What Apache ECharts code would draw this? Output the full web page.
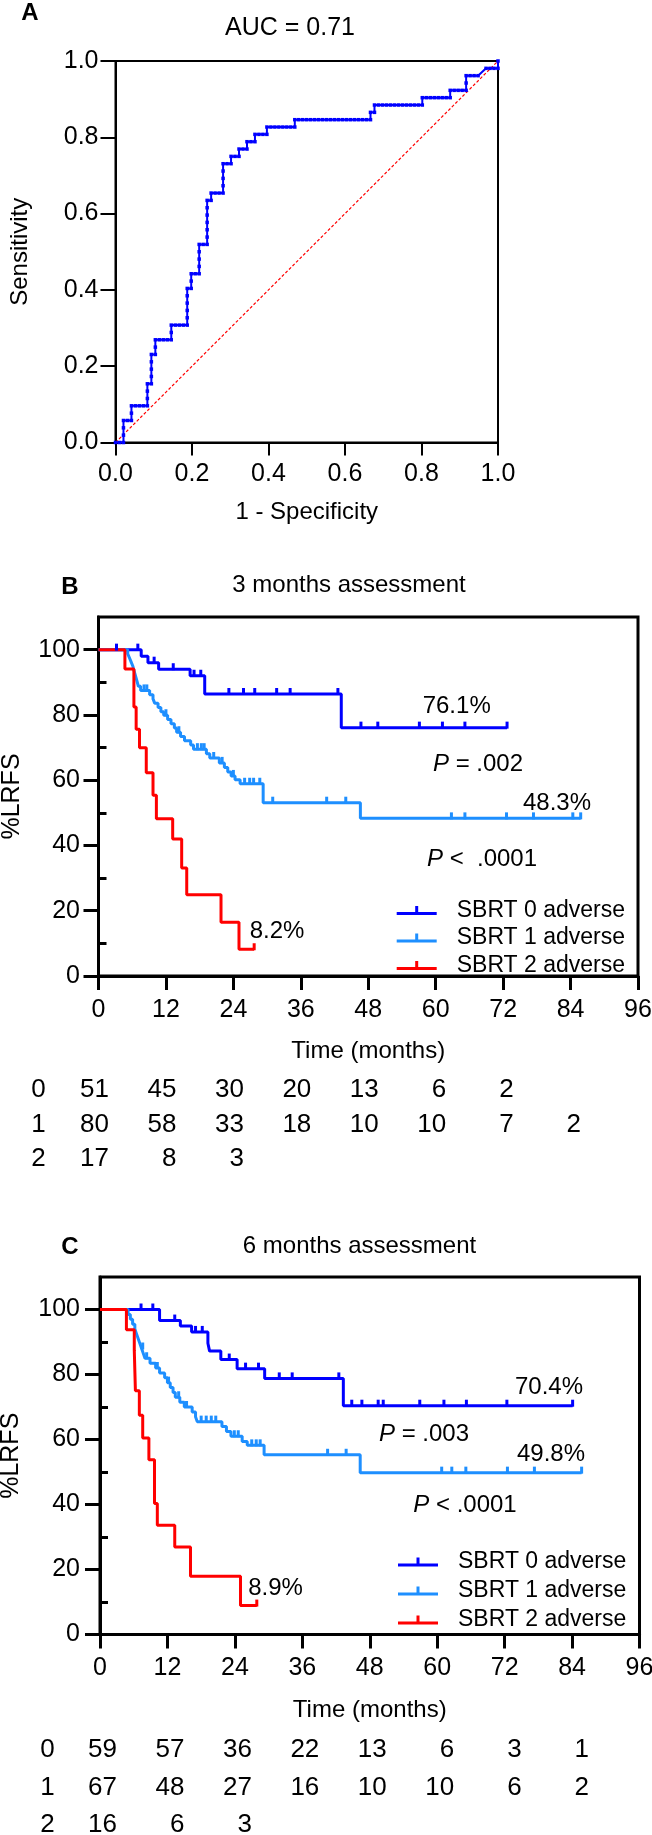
<!DOCTYPE html>
<html><head><meta charset="utf-8">
<script src="https://cdn.jsdelivr.net/npm/echarts@6/dist/echarts.min.js"></script>
<style>html,body{margin:0;padding:0;background:#fff}#c{width:652px;height:1835px}</style>
</head><body><div id="c"></div>
<script>
// ---------------- DATA ----------------
// Panel A: ROC points as [false positives, true positives] counts
const rocNegatives = 96, rocPositives = 52;
const rocPoints = [[0,0],[1,0],[2,0],[2,1],[2,2],[2,3],[3,3],[4,3],[4,4],[4,5],[5,5],[6,5],[7,5],[8,5],[8,6],[8,7],[8,8],[9,8],[9,9],[9,10],[9,11],[9,12],[10,12],[10,13],[10,14],[11,14],[12,14],[13,14],[14,14],[14,15],[14,16],[15,16],[16,16],[17,16],[18,16],[18,17],[18,18],[18,19],[18,20],[18,21],[19,21],[19,22],[19,23],[20,23],[21,23],[21,24],[21,25],[21,26],[21,27],[22,27],[23,27],[23,28],[23,29],[23,30],[23,31],[23,32],[23,33],[24,33],[24,34],[25,34],[26,34],[27,34],[27,35],[27,36],[27,37],[27,38],[28,38],[29,38],[29,39],[30,39],[31,39],[31,40],[32,40],[33,40],[33,41],[34,41],[35,41],[35,42],[36,42],[37,42],[38,42],[38,43],[39,43],[40,43],[41,43],[42,43],[43,43],[44,43],[45,43],[45,44],[46,44],[47,44],[48,44],[49,44],[50,44],[51,44],[52,44],[53,44],[54,44],[55,44],[56,44],[57,44],[58,44],[59,44],[60,44],[61,44],[62,44],[63,44],[64,44],[64,45],[65,45],[65,46],[66,46],[67,46],[68,46],[69,46],[70,46],[71,46],[72,46],[73,46],[74,46],[75,46],[76,46],[77,46],[77,47],[78,47],[79,47],[80,47],[81,47],[82,47],[83,47],[84,47],[84,48],[85,48],[86,48],[87,48],[88,48],[88,49],[88,50],[89,50],[90,50],[91,50],[93,51],[94,51],[95,51],[96,51],[96,52]];
const chanceLine = [[0,0],[1,1]];

const groupNames = ['SBRT 0 adverse','SBRT 1 adverse','SBRT 2 adverse'];
const riskMonths = [0,12,24,36,48,60,72,84];
const riskRowLabels = ['0','1','2'];

// Panel B: 3 months assessment (event times in months, survival %)
const b0Times = [7.6, 8.8, 10.7, 16.3, 18.9, 43.2];
const b0Surv  = [98.0, 96.0, 94.0, 92.0, 86.4, 76.1];
const b0Cens  = [3.2, 7.0, 9.9, 13.3, 17.0, 18.2, 23.2, 25.8, 27.8, 31.7, 34.1, 42.6, 46.7, 49.7, 57.1, 61.2, 65.2, 72.7];
const b1Times = [5.2, 5.5, 5.8, 6.1, 6.3, 6.5, 6.7, 6.9, 7.1, 7.5, 9.1, 9.7, 10.0, 10.6, 11.1, 11.6, 12.3, 12.9, 13.5, 13.9, 14.6, 15.3, 16.4, 16.9, 19.2, 19.8, 21.5, 22.4, 23.0, 23.6, 24.3, 25.2, 29.3, 46.6];
const b1Surv  = [98.75, 97.5, 96.25, 95.0, 93.75, 92.5, 91.25, 90.0, 88.75, 87.5, 86.2, 84.9, 83.6, 82.3, 81.0, 79.9, 78.6, 77.3, 76.0, 74.7, 73.4, 72.1, 70.8, 69.5, 68.1, 66.8, 65.3, 63.9, 62.5, 61.3, 60.1, 58.9, 53.1, 48.3];
const b1Cens  = [8.1, 8.6, 12.0, 14.3, 17.6, 18.3, 18.8, 20.5, 22.0, 24.0, 26.0, 26.9, 27.6, 28.7, 31.0, 40.6, 44.0, 62.8, 65.2, 72.6, 77.4, 84.4, 85.8];
const b2Times = [4.7, 6.3, 6.7, 7.3, 8.5, 9.7, 10.3, 13.2, 14.8, 15.7, 21.8, 25.0];
const b2Surv  = [94.1, 82.4, 75.6, 69.9, 62.3, 55.4, 48.2, 42.0, 33.1, 24.9, 16.5, 8.2];
const b2Cens  = [27.7];
const bEnds   = [72.7, 85.8, 27.7];
const riskB0 = [51, 45, 30, 20, 13, 6, 2];
const riskB1 = [80, 58, 33, 18, 10, 10, 7, 2];
const riskB2 = [17, 8, 3];

// Panel C: 6 months assessment
const c0Times = [10.6, 14.3, 16.3, 19.2, 19.5, 21.5, 24.4, 29.3, 43.3];
const c0Surv  = [96.6, 94.9, 93.1, 89.6, 87.2, 84.6, 81.8, 78.8, 70.4];
const c0Cens  = [7.3, 9.4, 13.3, 17.0, 18.2, 23.0, 25.9, 28.2, 31.9, 34.2, 42.5, 44.8, 46.6, 49.5, 50.4, 56.9, 61.2, 65.2, 72.4, 84.1];
const c1Times = [5.0, 5.4, 5.8, 6.2, 6.5, 6.8, 7.1, 7.4, 7.7, 8.0, 8.9, 9.9, 10.6, 11.5, 12.0, 12.5, 13.0, 13.4, 14.2, 15.0, 16.4, 17.0, 17.3, 21.7, 22.5, 23.3, 25.3, 26.2, 29.2, 46.3];
const c1Surv  = [98.5, 97.0, 95.5, 94.0, 92.5, 91.0, 89.5, 88.0, 86.5, 85.0, 83.5, 82.0, 80.5, 79.0, 77.5, 76.0, 74.5, 73.0, 71.5, 70.0, 68.5, 67.0, 65.5, 64.0, 62.5, 61.0, 59.4, 58.2, 55.3, 49.8];
const c1Cens  = [7.6, 8.3, 10.2, 12.2, 14.0, 15.4, 18.0, 18.9, 19.8, 20.6, 23.9, 24.6, 27.0, 27.8, 28.5, 40.5, 43.8, 60.8, 62.6, 65.1, 72.5, 77.3, 85.7];
const c2Times = [4.7, 6.1, 6.3, 7.0, 7.6, 8.7, 9.7, 10.2, 13.3, 16.1, 25.0];
const c2Surv  = [93.75, 87.5, 75.0, 67.5, 60.5, 53.8, 40.3, 33.6, 26.9, 17.9, 8.9];
const c2Cens  = [27.9];
const cEnds   = [84.1, 85.7, 27.9];
const riskC0 = [59, 57, 36, 22, 13, 6, 3, 1];
const riskC1 = [67, 48, 27, 16, 10, 10, 6, 2];
const riskC2 = [16, 6, 3];

// ---------------- STYLE / LAYOUT ----------------
const FONT = 'Liberation Sans, Arial, Helvetica, sans-serif';
const colors = ['#0000ff', '#1e8fff', '#ff0000'];
const blk = '#000';

function survAt(times, surv, t) {
  let s = 100;
  for (let i = 0; i < times.length; i++) if (times[i] <= t) s = surv[i];
  return s;
}
function kmSeries(name, color, times, surv, cens, end, xi, yi) {
  const line = [[0, 100]];
  times.forEach((t, i) => line.push([t, surv[i]]));
  line.push([end, surv[surv.length - 1]]);
  const marks = cens.map(t => [t, survAt(times, surv, t)]);
  return [
    { type: 'line', name, xAxisIndex: xi, yAxisIndex: yi, data: line, step: 'end', symbol: 'none', showSymbol: false,
      lineStyle: { color, width: 3 }, itemStyle: { color }, silent: true, z: 3 },
    { type: 'scatter', name, xAxisIndex: xi, yAxisIndex: yi, data: marks, symbol: 'rect', symbolSize: [3, 7], symbolOffset: [0, -2.5],
      itemStyle: { color, opacity: 1 }, silent: true, z: 4 }
  ];
}
function riskSeries(rows, xi, yi, offset) {
  const data = [];
  rows.forEach((row, r) => row.forEach((n, i) => data.push([riskMonths[i], r, n])));
  return { type: 'scatter', xAxisIndex: xi, yAxisIndex: yi, data, symbol: 'circle', symbolSize: 0,
    itemStyle: { color: blk, opacity: 1 }, silent: true,
    label: { show: true, position: 'inside', align: 'right', verticalAlign: 'middle', offset: [offset, 0],
      formatter: p => String(p.value[2]), fontSize: 26, color: blk, opacity: 1, textBorderWidth: 0, fontFamily: FONT } };
}
function kmX(gi, margin, nameGap) {
  return { gridIndex: gi, type: 'value', min: 0, max: 96, interval: 12, name: 'Time (months)', nameLocation: 'middle', nameGap,
    nameTextStyle: { fontSize: 24, color: blk, fontFamily: FONT },
    axisLine: { show: true, onZero: false, lineStyle: { color: blk, width: 3 } },
    axisTick: { show: true, length: 14, lineStyle: { color: blk, width: 3 } },
    axisLabel: { fontSize: 25, color: blk, margin, fontFamily: FONT }, splitLine: { show: false } };
}
function kmY(gi, margin, nameGap) {
  return { gridIndex: gi, type: 'value', min: 0, max: 110, interval: 20, name: '%LRFS', nameLocation: 'middle', nameRotate: 90, nameGap,
    nameTextStyle: { fontSize: 25, color: blk, fontFamily: FONT },
    axisLine: { show: true, onZero: false, lineStyle: { color: blk, width: 3 } },
    axisTick: { show: true, length: 15, lineStyle: { color: blk, width: 3 }, customValues: [0, 20, 40, 60, 80, 100] },
    axisLabel: { fontSize: 25, color: blk, margin, fontFamily: FONT, customValues: [0, 20, 40, 60, 80, 100] },
    splitLine: { show: false } };
}
function kmYMinor(gi) {
  return { gridIndex: gi, type: 'value', min: 0, max: 110, interval: 10,
    axisLine: { show: false }, axisLabel: { show: false }, splitLine: { show: false },
    axisTick: { show: true, length: 8, lineStyle: { color: blk, width: 3 }, customValues: [10, 30, 50, 70, 90] } };
}
function riskX(gi) { return { gridIndex: gi, type: 'value', min: 0, max: 96, show: false }; }
function riskY(gi, margin) {
  return { gridIndex: gi, type: 'category', data: riskRowLabels, inverse: true,
    axisLine: { show: false }, axisTick: { show: false }, splitLine: { show: false },
    axisLabel: { fontSize: 26, color: blk, margin, align: 'center', fontFamily: FONT } };
}
function txt(text, x, y, size, extra) {
  return { type: 'text', x, y, silent: true,
    style: Object.assign({ text, fill: blk, fontSize: size, fontFamily: FONT,
      textAlign: 'center', textVerticalAlign: 'middle', align: 'center', verticalAlign: 'middle' }, extra || {}) };
}
function ptxt(text, x, y) {
  return txt(text, x, y, 24, { rich: { i: { fontStyle: 'italic', fontSize: 24, fontFamily: FONT, fill: blk } } });
}
const legendIcon = 'path://M0,6L40,6L40,9L0,9Z M18.5,0L21.5,0L21.5,6L18.5,6Z';
function legend(left, top, gap) {
  return { data: groupNames, left, top, orient: 'vertical', itemWidth: 40, itemHeight: 9, itemGap: gap, icon: legendIcon,
    selectedMode: false, textStyle: { fontSize: 23, color: blk, fontFamily: FONT, padding: [0, 0, 0, 15] } };
}

const series = [
  { type: 'line', data: chanceLine, xAxisIndex: 0, yAxisIndex: 0, symbol: 'none', silent: true,
    lineStyle: { color: '#ff0000', width: 1.2, type: [3, 2] }, z: 2 },
  { type: 'line', data: rocPoints.map(p => [p[0] / rocNegatives, p[1] / rocPositives]), xAxisIndex: 0, yAxisIndex: 0,
    symbol: 'rect', symbolSize: 3.5, showSymbol: true, showAllSymbol: true, silent: true,
    lineStyle: { color: '#0000ff', width: 2 }, itemStyle: { color: '#0000ff', opacity: 1 }, z: 3 },
  ...kmSeries(groupNames[0], colors[0], b0Times, b0Surv, b0Cens, bEnds[0], 1, 1),
  ...kmSeries(groupNames[1], colors[1], b1Times, b1Surv, b1Cens, bEnds[1], 1, 1),
  ...kmSeries(groupNames[2], colors[2], b2Times, b2Surv, b2Cens, bEnds[2], 1, 1),
  riskSeries([riskB0, riskB1, riskB2], 2, 3, 10.5),
  ...kmSeries(groupNames[0], colors[0], c0Times, c0Surv, c0Cens, cEnds[0], 3, 4),
  ...kmSeries(groupNames[1], colors[1], c1Times, c1Surv, c1Cens, cEnds[1], 3, 4),
  ...kmSeries(groupNames[2], colors[2], c2Times, c2Surv, c2Cens, cEnds[2], 3, 4),
  riskSeries([riskC0, riskC1, riskC2], 4, 6, 17)
];

const option = {
  animation: false,
  backgroundColor: '#fff',
  textStyle: { fontFamily: FONT },
  grid: [
    { left: 115.5, top: 61, width: 382.5, height: 381.5, show: true, borderColor: blk, borderWidth: 2, backgroundColor: 'transparent', outerBoundsMode: 'none' },
    { left: 98.5, top: 617, width: 539.5, height: 359, show: true, borderColor: blk, borderWidth: 3, backgroundColor: 'transparent', outerBoundsMode: 'none' },
    { left: 98.5, top: 1072.75, width: 539.5, height: 103.5, outerBoundsMode: 'none' },
    { left: 100, top: 1277, width: 539.5, height: 357.5, show: true, borderColor: blk, borderWidth: 3, backgroundColor: 'transparent', outerBoundsMode: 'none' },
    { left: 100, top: 1731.25, width: 539.5, height: 112.5, outerBoundsMode: 'none' }
  ],
  xAxis: [
    { gridIndex: 0, type: 'value', min: 0, max: 1, interval: 0.2, name: '1 - Specificity', nameLocation: 'middle', nameGap: 58,
      nameTextStyle: { fontSize: 24, color: blk, fontFamily: FONT },
      axisLine: { show: true, onZero: false, lineStyle: { color: blk, width: 2 } },
      axisTick: { show: true, length: 13, lineStyle: { color: blk, width: 2 } },
      axisLabel: { fontSize: 25, color: blk, margin: 19, fontFamily: FONT, formatter: v => v.toFixed(1) }, splitLine: { show: false } },
    kmX(1, 21.5, 63),
    riskX(2),
    kmX(3, 21, 63.5),
    riskX(4)
  ],
  yAxis: [
    { gridIndex: 0, type: 'value', min: 0, max: 1, interval: 0.2, name: 'Sensitivity', nameLocation: 'middle', nameRotate: 90, nameGap: 83,
      nameTextStyle: { fontSize: 24, color: blk, fontFamily: FONT },
      axisLine: { show: true, onZero: false, lineStyle: { color: blk, width: 2 } },
      axisTick: { show: true, length: 15, lineStyle: { color: blk, width: 2 } },
      axisLabel: { fontSize: 25, color: blk, margin: 17, fontFamily: FONT, formatter: v => v.toFixed(1) }, splitLine: { show: false } },
    kmY(1, 18.5, 73.5),
    kmYMinor(1),
    riskY(2, 60),
    kmY(3, 20, 76),
    kmYMinor(3),
    riskY(4, 52.5)
  ],
  legend: [legend(391.7, 894, 4.5), legend(393, 1545.5, 6)],
  graphic: [
    txt('A', 30, 13, 24, { fontWeight: 'bold' }),
    txt('AUC = 0.71', 290, 28, 25),
    txt('B', 70, 587, 24, { fontWeight: 'bold' }),
    txt('3 months assessment', 349, 585, 24),
    txt('76.1%', 456.7, 706, 24),
    ptxt('{i|P} = .002', 478, 764),
    txt('48.3%', 557, 803, 24),
    ptxt('{i|P} <  .0001', 482, 859),
    txt('8.2%', 277, 931, 24),
    txt('C', 70, 1247, 24, { fontWeight: 'bold' }),
    txt('6 months assessment', 359.5, 1246, 24),
    txt('70.4%', 549, 1387, 24),
    ptxt('{i|P} = .003', 424, 1434),
    txt('49.8%', 551, 1454, 24),
    ptxt('{i|P} < .0001', 465, 1505),
    txt('8.9%', 275.6, 1588, 24)
  ],
  series
};

const chart = echarts.init(document.getElementById('c'), null, { renderer: 'canvas' });
chart.setOption(option);
</script></body></html>
